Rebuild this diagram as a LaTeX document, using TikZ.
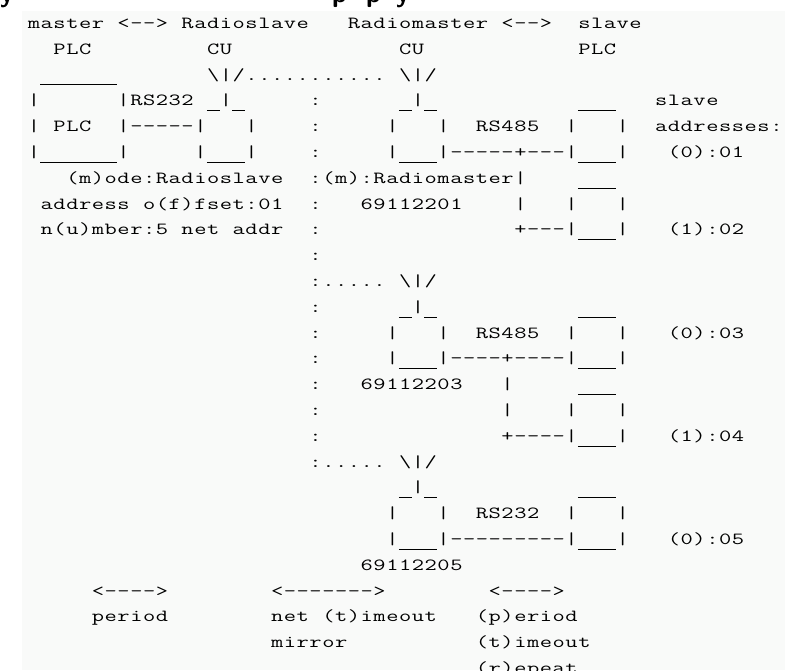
\documentclass[tikz,border=0pt]{standalone}
\usepackage{graphicx}
\definecolor{imgbg}{RGB}{249,250,249}
\definecolor{ink}{RGB}{0,0,0}
\newlength\cw \setlength\cw{12.8pt}
\newcommand\ch[1]{\makebox[\cw][c]{\scalebox{1.4}[1]{#1}}}
\newcommand\us{\textcolor{ink}{\rule[-5pt]{9.2pt}{0.8pt}}}
\ExplSyntaxOn
\NewDocumentCommand\asc{m}{\tl_map_inline:nn{#1}{\ch{##1}}}
\ExplSyntaxOff
\tikzset{
  txt/.style={anchor=base west,inner sep=0pt,outer sep=0pt,text=ink,
    font=\ttfamily\fontsize{17}{17}\selectfont},
  frag/.style={anchor=base west,inner sep=0pt,outer sep=0pt,text=ink,
    font=\sffamily\bfseries\fontsize{26}{26}\selectfont}
}
\newcommand\T[4]{\node[txt] (#1) at ({27.6+12.8*#2},{28.5+25.8*#3}) {\asc{#4}};}
\begin{document}
\begin{tikzpicture}[x=1pt,y=-1pt]
\useasboundingbox (0,0) rectangle (785,670);
\fill[white] (0,0) rectangle (785,670);
\fill[imgbg] (22,11) rectangle (785,670);
\begin{scope}
\clip (0,0) rectangle (785,10);
\node[frag] (fa) at (0,2) {y};
\node[frag] (fb) at (332,2) {p};
\node[frag] (fc) at (366,2) {p};
\node[frag] (fd) at (396,2) {y};
\end{scope}
% row 0
\T{r0a}{0}{0}{master\ <-->\ Radioslave}
\T{r0d}{25}{0}{Radiomaster\ <-->}
\T{r0f}{43}{0}{slave}
% row 1
\T{r1a}{2}{1}{PLC}
\T{r1b}{14}{1}{CU}
\T{r1c}{29}{1}{CU}
\T{r1d}{43}{1}{PLC}
% row 2
\T{r2a}{1}{2}{\us\us\us\us\us\us}
\T{r2b}{14}{2}{\textbackslash|/...........}
\T{r2c}{29}{2}{\textbackslash|/}
% row 3
\T{r3a}{0}{3}{|\ \ \ \ \ \ |RS232\ \us|\us}
\T{r3b}{22}{3}{:}
\T{r3c}{29}{3}{\us|\us}
\T{r3d}{43}{3}{\us\us\us}
\T{r3e}{49}{3}{slave}
% row 4
\T{r4a}{0}{4}{|\ PLC\ \ |-----|\ \ \ |}
\T{r4b}{22}{4}{:}
\T{r4c}{28}{4}{|\ \ \ |\ \ RS485\ \ |\ \ \ |}
\T{r4d}{49}{4}{addresses:}
% row 5
\T{r5a}{0}{5}{|\us\us\us\us\us\us|\ \ \ \ \ |\us\us\us|}
\T{r5b}{22}{5}{:}
\T{r5c}{28}{5}{|\us\us\us|-----+---|\us\us\us|}
\T{r5d}{50}{5}{(0):01}
% row 6
\T{r6a}{3}{6}{(m)ode:Radioslave}
\T{r6b}{22}{6}{:(m):Radiomaster|}
\T{r6c}{43}{6}{\us\us\us}
% row 7
\T{r7a}{1}{7}{address\ o(f)fset:01}
\T{r7b}{22}{7}{:}
\T{r7c}{26}{7}{69112201}
\T{r7d}{38}{7}{|\ \ \ |\ \ \ |}
% row 8
\T{r8a}{1}{8}{n(u)mber:5\ net\ addr}
\T{r8b}{22}{8}{:}
\T{r8c}{38}{8}{+---|\us\us\us|}
\T{r8d}{50}{8}{(1):02}
% row 9
\T{r9a}{22}{9}{:}
% row 10
\T{r10a}{22}{10}{:.....}
\T{r10b}{29}{10}{\textbackslash|/}
% row 11
\T{r11a}{22}{11}{:}
\T{r11b}{29}{11}{\us|\us}
\T{r11c}{43}{11}{\us\us\us}
% row 12
\T{r12a}{22}{12}{:}
\T{r12b}{28}{12}{|\ \ \ |\ \ RS485\ \ |\ \ \ |}
\T{r12c}{50}{12}{(0):03}
% row 13
\T{r13a}{22}{13}{:}
\T{r13b}{28}{13}{|\us\us\us|----+----|\us\us\us|}
% row 14
\T{r14a}{22}{14}{:}
\T{r14b}{26}{14}{69112203}
\T{r14c}{37}{14}{|}
\T{r14d}{43}{14}{\us\us\us}
% row 15
\T{r15a}{22}{15}{:}
\T{r15b}{37}{15}{|\ \ \ \ |\ \ \ |}
% row 16
\T{r16a}{22}{16}{:}
\T{r16b}{37}{16}{+----|\us\us\us|}
\T{r16c}{50}{16}{(1):04}
% row 17
\T{r17a}{22}{17}{:.....}
\T{r17b}{29}{17}{\textbackslash|/}
% row 18
\T{r18a}{29}{18}{\us|\us}
\T{r18b}{43}{18}{\us\us\us}
% row 19
\T{r19a}{28}{19}{|\ \ \ |\ \ RS232\ \ |\ \ \ |}
% row 20
\T{r20a}{28}{20}{|\us\us\us|---------|\us\us\us|}
\T{r20b}{50}{20}{(0):05}
% row 21
\T{r21a}{26}{21}{69112205}
% row 22
\T{r22a}{5}{22}{<---->}
\T{r22b}{19}{22}{<------->}
\T{r22c}{36}{22}{<---->}
% row 23
\T{r23a}{5}{23}{period}
\T{r23b}{19}{23}{net\ (t)imeout}
\T{r23c}{35}{23}{(p)eriod}
% row 24
\T{r24a}{19}{24}{mirror}
\T{r24b}{35}{24}{(t)imeout}
% row 25
\T{r25a}{35}{25}{(r)epeat}
\end{tikzpicture}
\end{document}
